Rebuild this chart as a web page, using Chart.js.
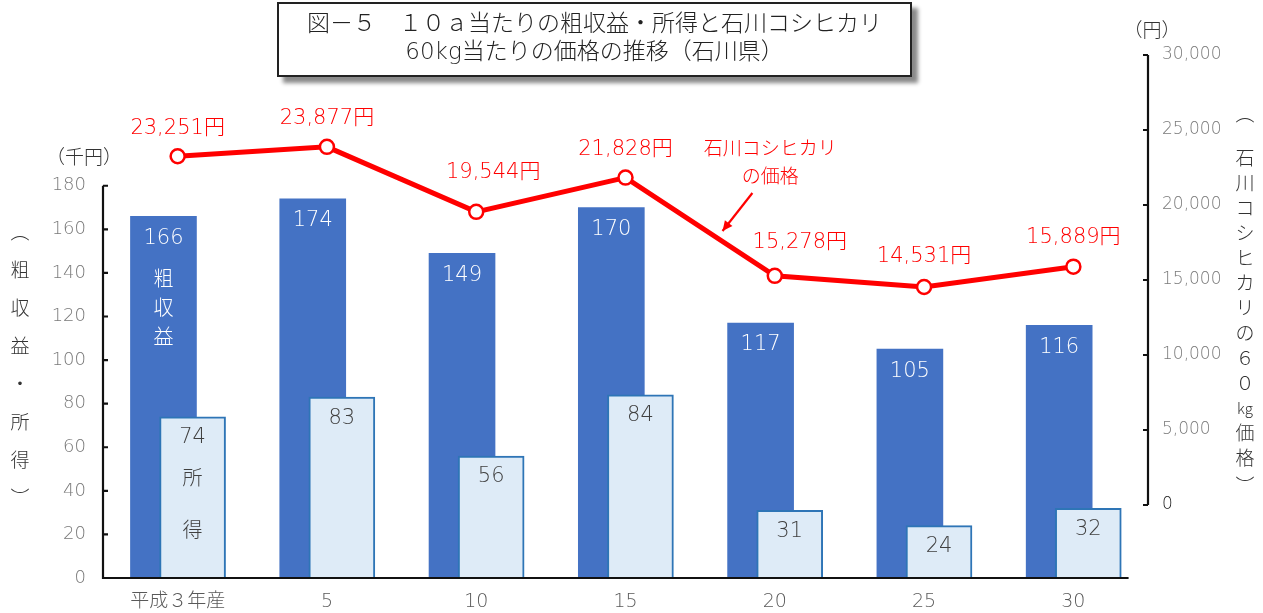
<!DOCTYPE html>
<html lang="ja">
<head>
<meta charset="utf-8">
<script src="https://cdn.jsdelivr.net/npm/chart.js@4"></script>
<style>
  html, body { margin: 0; padding: 0; background: #fff; }
  #wrap { position: relative; width: 1263px; height: 613px; }
  #chart { position: absolute; left: 0; top: 0; }
  #title {
    position: absolute; left: 277px; top: 2px; width: 631px; height: 66px;
    border: 2px solid #222; background: #fff;
    box-shadow: 6px 6px 4px #8a8a8a;
    font-family: "DejaVu Sans", "Noto Sans CJK JP", sans-serif; font-weight: 300; font-size: 23px; line-height: 28px;
    color: #222; text-align: center; padding-top: 5px; box-sizing: content-box;
  }
</style>
</head>
<body>
<div id="wrap">
  <canvas id="chart" width="1263" height="613"></canvas>
  <div id="title">図－５　１０ａ当たりの粗収益・所得と石川コシヒカリ<br>60kg当たりの価格の推移（石川県）</div>
</div>
<script>
// 年産区分
const categories = ['平成３年産', '5', '10', '15', '20', '25', '30'];
// 10a当たり粗収益（千円）
const grossIncome = [166, 174, 149, 170, 117, 105, 116];
// 10a当たり所得（千円）
const income = [74, 83, 56, 84, 31, 24, 32];
// 石川コシヒカリ60kg当たり価格（円）
const price = [23251, 23877, 19544, 21828, 15278, 14531, 15889];
// 左軸・右軸の目盛
const leftTicks = [0, 20, 40, 60, 80, 100, 120, 140, 160, 180];
const rightTicks = [0, 5000, 10000, 15000, 20000, 25000, 30000];

const JP = '"Noto Sans CJK JP", sans-serif';
const NUM = '"DejaVu Sans", "Noto Sans CJK JP", sans-serif';
const DARK = '#4472C4';
const LIGHT = '#DEEBF7';
const LIGHT_EDGE = '#2E75B6';
const RED = '#FF0000';

// 粗収益と所得の棒は少しずらして重ねる
const GROSS_SHIFT = -0.095;
const INCOME_SHIFT = 0.1;

// 価格ラベルの微調整（重なり回避）
const priceLabelNudge = [[0, 0], [0, 0], [17, -11], [0, 0], [25, -5], [0, -2], [0, -1]];

const overlay = {
  id: 'overlay',
  afterDatasetsDraw(chart) {
    const { ctx, scales } = chart;
    const x = scales.x, yl = scales.y, yr = scales.y2;
    ctx.save();

    // 軸線と目盛（内向き）
    ctx.strokeStyle = '#111';
    ctx.lineWidth = 2.2;
    ctx.beginPath();
    const lx = x.left;
    ctx.moveTo(lx, yl.getPixelForValue(180));
    ctx.lineTo(lx, yl.getPixelForValue(0));
    ctx.lineTo(x.getPixelForValue(6.37), yl.getPixelForValue(0));
    ctx.stroke();
    ctx.beginPath();
    leftTicks.forEach(v => {
      if (v === 0) return;
      const py = yl.getPixelForValue(v);
      ctx.moveTo(lx, py); ctx.lineTo(lx + 5, py);
    });
    ctx.stroke();
    const rx = x.right;
    ctx.beginPath();
    ctx.moveTo(rx, yr.getPixelForValue(30000));
    ctx.lineTo(rx, yr.getPixelForValue(0));
    rightTicks.forEach(v => {
      const py = yr.getPixelForValue(v);
      ctx.moveTo(rx, py); ctx.lineTo(rx - 5, py);
    });
    ctx.stroke();

    ctx.textAlign = 'center';
    ctx.textBaseline = 'middle';

    // 粗収益の値
    const grossMeta = chart.getDatasetMeta(2);
    ctx.fillStyle = '#fff';
    ctx.font = '200 21px ' + NUM;
    grossMeta.data.forEach((el, i) => {
      ctx.fillText(String(grossIncome[i]), el.x, el.y + 22);
    });
    // 「粗収益」縦書き
    const g0 = grossMeta.data[0];
    ctx.font = '300 20px ' + JP;
    ['粗', '収', '益'].forEach((c, k) => ctx.fillText(c, g0.x, g0.y + 62 + k * 29));

    // 所得の値
    const incMeta = chart.getDatasetMeta(1);
    ctx.fillStyle = '#404040';
    ctx.font = '200 21px ' + NUM;
    incMeta.data.forEach((el, i) => {
      ctx.fillText(String(income[i]), el.x, el.y + 21);
    });
    const i0 = incMeta.data[0];
    ctx.font = '300 20px ' + JP;
    ctx.fillText('所', i0.x, i0.y + 61);
    ctx.fillText('得', i0.x, i0.y + 113);

    // 価格ラベル
    const lineMeta = chart.getDatasetMeta(0);
    ctx.fillStyle = RED;
    ctx.font = '200 21px ' + NUM;
    lineMeta.data.forEach((el, i) => {
      const [dx, dy] = priceLabelNudge[i];
      ctx.fillText(price[i].toLocaleString('en-US') + '円', el.x + dx, el.y - 28 + dy);
    });

    // 系列名と矢印
    ctx.font = '300 19px ' + JP;
    const ax = x.getPixelForValue(3.97);
    ctx.fillText('石川コシヒカリ', ax, yr.getPixelForValue(23800));
    ctx.fillText('の価格', ax, yr.getPixelForValue(21930));
    const x1 = x.getPixelForValue(3.85), y1 = yr.getPixelForValue(20800);
    const x2 = x.getPixelForValue(3.65), y2 = yr.getPixelForValue(18270);
    ctx.strokeStyle = RED;
    ctx.lineWidth = 2.2;
    ctx.beginPath(); ctx.moveTo(x1, y1); ctx.lineTo(x2, y2); ctx.stroke();
    const ang = Math.atan2(y2 - y1, x2 - x1);
    ctx.fillStyle = RED;
    ctx.beginPath();
    ctx.moveTo(x2, y2);
    ctx.lineTo(x2 - 11 * Math.cos(ang - 0.45), y2 - 11 * Math.sin(ang - 0.45));
    ctx.lineTo(x2 - 11 * Math.cos(ang + 0.45), y2 - 11 * Math.sin(ang + 0.45));
    ctx.closePath(); ctx.fill();

    // 単位
    ctx.fillStyle = '#333';
    ctx.font = '300 19px ' + JP;
    ctx.fillText('（千円）', 84, 157);
    ctx.fillText('（円）', 1152, 30);

    // 左軸タイトル（縦書き）
    const leftTitle = ['︵', '粗', '収', '益', '・', '所', '得', '︶'];
    leftTitle.forEach((c, k) => ctx.fillText(c, 20, 232 + k * 37.9));

    // 右軸タイトル（縦書き）
    const rightTitle = ['石', '川', 'コ', 'シ', 'ヒ', 'カ', 'リ', 'の', '６', '０', 'kg', '価', '格'];
    ctx.fillText('︵', 1245, 114);
    rightTitle.forEach((c, k) => {
      ctx.font = (c === 'kg' ? '300 15px ' : '300 19px ') + JP;
      ctx.fillText(c, 1245, 158 + k * 25);
    });
    ctx.font = '300 19px ' + JP;
    ctx.fillText('︶', 1245, 486);

    ctx.restore();
  }
};

new Chart(document.getElementById('chart'), {
  data: {
    datasets: [
      {
        type: 'line',
        label: '石川コシヒカリの価格',
        data: price.map((v, i) => ({ x: i, y: v })),
        yAxisID: 'y2',
        borderColor: RED,
        borderWidth: 5,
        pointRadius: 7,
        pointBorderWidth: 2.5,
        pointBackgroundColor: '#fff',
        pointBorderColor: RED,
        tension: 0,
        order: 0
      },
      {
        type: 'bar',
        label: '所得',
        data: income.map((v, i) => ({ x: i + INCOME_SHIFT, y: v })),
        yAxisID: 'y',
        backgroundColor: LIGHT,
        borderColor: LIGHT_EDGE,
        borderWidth: 2,
        barThickness: 66,
        grouped: false,
        order: 1
      },
      {
        type: 'bar',
        label: '粗収益',
        data: grossIncome.map((v, i) => ({ x: i + GROSS_SHIFT, y: v })),
        yAxisID: 'y',
        backgroundColor: DARK,
        borderWidth: 0,
        barThickness: 66,
        grouped: false,
        order: 2
      }
    ]
  },
  options: {
    responsive: false,
    animation: false,
    layout: { padding: { top: 55, left: 0, right: 0, bottom: 0 } },
    plugins: { legend: { display: false }, tooltip: { enabled: false }, title: { display: false } },
    scales: {
      x: {
        type: 'linear',
        offset: false,
        min: -0.5,
        max: 6.5,
        grid: { display: false, drawTicks: false, offset: false },
        border: { display: false },
        afterBuildTicks: s => { s.ticks = categories.map((c, i) => ({ value: i })); },
        afterFit: s => { s.height = 35; },
        ticks: {
          autoSkip: false, maxRotation: 0, padding: 13,
          color: '#595959', font: { family: NUM, size: 19, weight: 200 },
          callback: v => categories[v] ?? ''
        }
      },
      y: {
        position: 'left',
        min: 0,
        max: 240,
        grid: { display: false, drawTicks: false },
        border: { display: false },
        afterBuildTicks: s => { s.ticks = leftTicks.map(v => ({ value: v })); },
        afterFit: s => { s.width = 103; },
        ticks: { padding: 17, color: '#7a7a7a', font: { family: NUM, size: 18, weight: 200 } }
      },
      y2: {
        position: 'right',
        min: -4867,
        max: 30000,
        grid: { display: false, drawTicks: false },
        border: { display: false },
        afterBuildTicks: s => { s.ticks = rightTicks.map(v => ({ value: v })); },
        afterFit: s => { s.width = 115; },
        ticks: {
          padding: 14,
          color: c => (c.tick && c.tick.value === 0 ? '#222' : '#7a7a7a'),
          font: { family: NUM, size: 17, weight: 200 },
          callback: v => v.toLocaleString('en-US')
        }
      }
    }
  },
  plugins: [overlay]
});
</script>
</body>
</html>
